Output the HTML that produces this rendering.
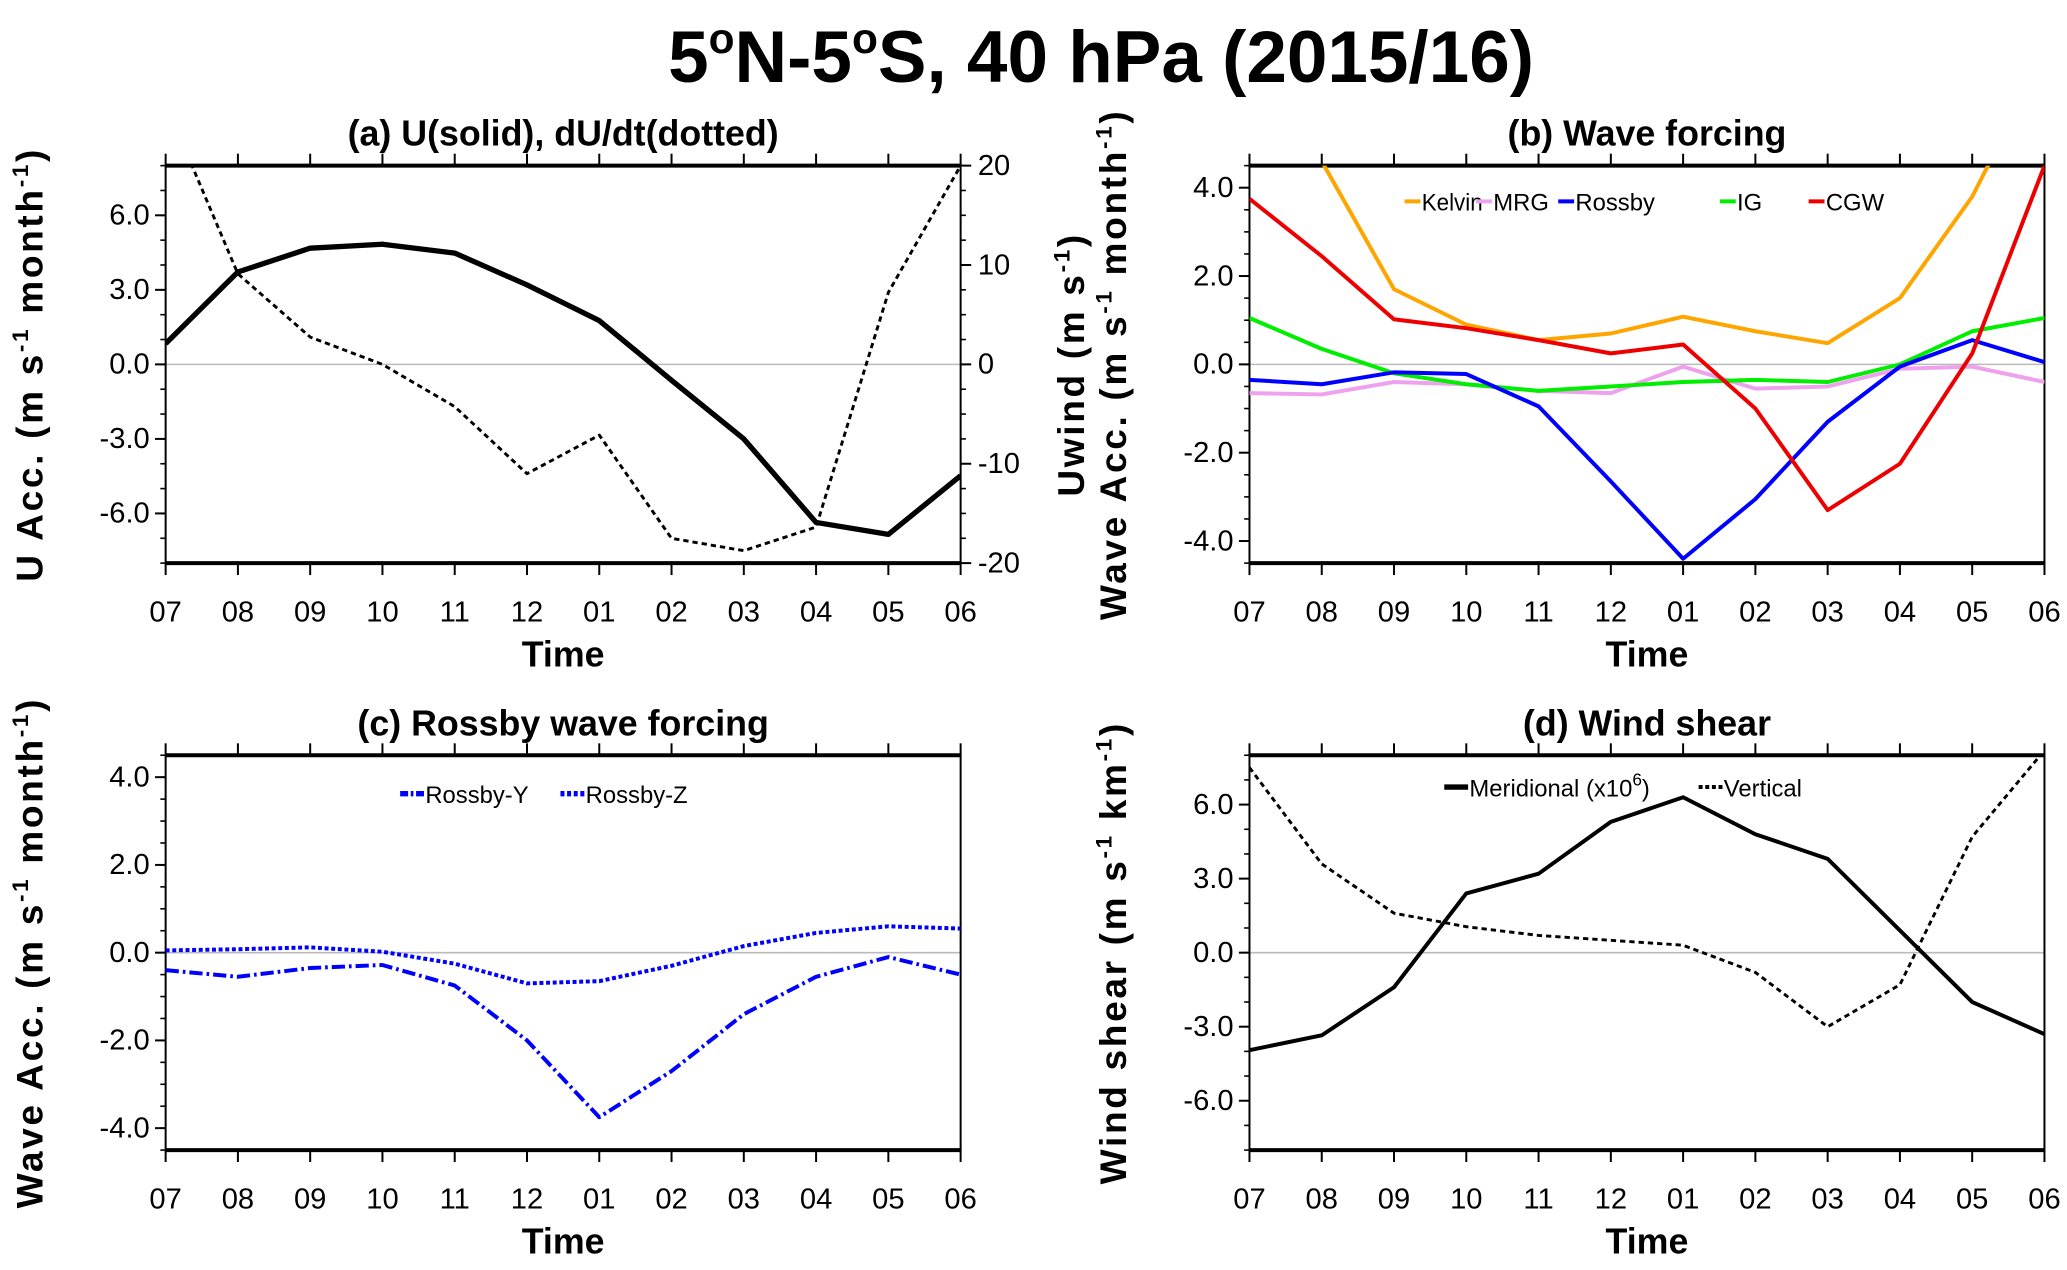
<!DOCTYPE html>
<html><head><meta charset="utf-8"><style>
html,body{margin:0;padding:0;background:#fff;}
svg{display:block;font-family:"Liberation Sans",Arial,sans-serif;}
</style></head><body>
<svg id="fig" width="2067" height="1270" viewBox="0 0 1560 958.5" xmlns="http://www.w3.org/2000/svg">
<text x="831" y="62" text-anchor="middle" font-size="55" font-weight="bold">5<tspan font-size="32" dy="-22">o</tspan><tspan dy="22">N-5</tspan><tspan font-size="32" dy="-22">o</tspan><tspan dy="22">S, 40 hPa (2015/16)</tspan></text>
</svg>
<script>
const months = ["07","08","09","10","11","12","01","02","03","04","05","06"];
// panel a
const aU = [2.1, 9.3, 11.7, 12.1, 11.2, 8.0, 4.4, -1.6, -7.5, -15.9, -17.1, -11.2];
const aDUDT = [10.5, 3.65, 1.1, 0.0, -1.7, -4.4, -2.85, -7.0, -7.5, -6.55, 2.9, 8.0];
const aLeftTicks = ["-6.0","-3.0","0.0","3.0","6.0"];
const aRightTicks = ["-20","-10","0","10","20"];
// panel b
const bKelvin = [8.0, 4.6, 1.7, 0.9, 0.55, 0.7, 1.08, 0.75, 0.48, 1.5, 3.8, 7.0];
const bMRG = [-0.65, -0.68, -0.4, -0.45, -0.6, -0.65, -0.05, -0.55, -0.5, -0.1, -0.05, -0.4];
const bRossby = [-0.35, -0.45, -0.18, -0.22, -0.95, -2.65, -4.4, -3.05, -1.3, -0.05, 0.55, 0.05];
const bIG = [1.05, 0.35, -0.2, -0.45, -0.6, -0.5, -0.4, -0.35, -0.4, 0.0, 0.75, 1.05];
const bCGW = [3.75, 2.45, 1.02, 0.82, 0.55, 0.25, 0.45, -1.0, -3.3, -2.25, 0.25, 4.5];
const bTicks = ["-4.0","-2.0","0.0","2.0","4.0"];
// panel c
const cRossbyY = [-0.4, -0.55, -0.35, -0.28, -0.75, -2.0, -3.75, -2.7, -1.4, -0.55, -0.1, -0.5];
const cRossbyZ = [0.05, 0.08, 0.12, 0.02, -0.25, -0.7, -0.65, -0.3, 0.15, 0.45, 0.6, 0.55];
// panel d
const dMerid = [-3.95, -3.35, -1.4, 2.4, 3.2, 5.3, 6.3, 4.8, 3.8, 0.9, -2.0, -3.3];
const dVert = [7.5, 3.6, 1.6, 1.05, 0.7, 0.5, 0.3, -0.8, -3.0, -1.3, 4.7, 8.2];
const dTicks = ["-6.0","-3.0","0.0","3.0","6.0"];

const NS="http://www.w3.org/2000/svg";
const svg=document.getElementById('fig');
function mk(tag,attrs,parent,txt){const e=document.createElementNS(NS,tag);for(const k in attrs)e.setAttribute(k,attrs[k]);if(txt!==undefined)e.textContent=txt;(parent||svg).appendChild(e);return e;}

function panel(id,L,T,W,H,ymin,ymax,minorStep,ticks,title,titleX){
  const g=mk('g',{});
  
  
  const cid='clip-'+id;
  const cp=mk('clipPath',{id:cid},g); mk('rect',{x:L,y:T,width:W,height:H},cp);
  const xs=i=>L+W*i/(months.length-1);
  const ys=v=>T+H*(ymax-v)/(ymax-ymin);
  const z=mk('line',{x1:L,x2:L+W,y1:ys(0),y2:ys(0),stroke:'#bbb','stroke-width':1.2},g);
  
  
  const fr=mk('rect',{x:L,y:T,width:W,height:H,fill:'none',stroke:'#000','stroke-width':1.5},g);
  
  
  mk('line',{x1:L,x2:L+W,y1:T,y2:T,stroke:'#000','stroke-width':3},g);
  mk('line',{x1:L,x2:L+W,y1:T+H,y2:T+H,stroke:'#000','stroke-width':3},g);
  months.forEach((m,i)=>{
    mk('line',{x1:xs(i),x2:xs(i),y1:T+H,y2:T+H+9,stroke:'#000','stroke-width':1.5},g);
    mk('line',{x1:xs(i),x2:xs(i),y1:T,y2:T-9,stroke:'#000','stroke-width':1.5},g);
    const t=mk('text',{x:xs(i),y:T+H+44,'text-anchor':'middle','font-size':22},g,m);
    
    
  });
  for(let v=Math.ceil(ymin/minorStep)*minorStep; v<=ymax+1e-9; v+=minorStep){
    mk('line',{x1:L-4,x2:L,y1:ys(v),y2:ys(v),stroke:'#000','stroke-width':1.2},g);
  }
  ticks.forEach(s=>{
    const v=parseFloat(s);
    mk('line',{x1:L-8,x2:L,y1:ys(v),y2:ys(v),stroke:'#000','stroke-width':1.5},g);
    const t=mk('text',{x:L-12,y:ys(v)+7,'text-anchor':'end','font-size':22},g,s);
    
    
  });
  const tt=mk('text',{x:titleX,y:T-15,'text-anchor':'middle','font-size':27,'font-weight':'bold'},g,title);
  
  
  const xt=mk('text',{x:L+W/2,y:T+H+78,'text-anchor':'middle','font-size':27,'font-weight':'bold'},g,'Time');
  
  
  return {g,xs,ys,cid};
}
function series(p,vals,ysF,color,width,dash,name){
  const pts=vals.map((v,i)=>p.xs(i).toFixed(1)+','+ysF(v).toFixed(1)).join(' ');
  const e=mk('polyline',{points:pts,fill:'none',stroke:color,'stroke-width':width,'stroke-dasharray':dash||'none','clip-path':'url(#'+p.cid+')','stroke-linejoin':'round'},p.g);
  
  
}
function ytitle(x,y,html,name){
  const t=mk('text',{x:x,y:y,'text-anchor':'middle','font-size':28,'font-weight':'bold','letter-spacing':'2',transform:'rotate(-90 '+x+' '+y+')'});
  t.innerHTML=html;
  
  
}
function legend(p,x,y,color,width,dash,label,len,tl){
  len=len||12;
  mk('line',{x1:x,x2:x+len,y1:y,y2:y,stroke:color,'stroke-width':width,'stroke-dasharray':dash||'none'},p.g);
  const at={x:x+len+1,y:y+7,'font-size':18};
  if(tl){at.textLength=tl;at.lengthAdjust='spacingAndGlyphs';}
  const t=mk('text',at,p.g);
  t.innerHTML=label;
  
  
}
const S1='<tspan font-size="17" dy="-11">-1</tspan><tspan dy="11">';

// (a)
const pa=panel('panel-a',125,125,600,300,-8,8,1,aLeftTicks,'(a) U(solid), dU/dt(dotted)',425);
const ysR=v=>125+300*(20-v)/40;
aRightTicks.forEach(s=>{const v=parseFloat(s);
  mk('line',{x1:725,x2:733,y1:ysR(v),y2:ysR(v),stroke:'#000','stroke-width':1.5},pa.g);
  const t=mk('text',{x:738,y:ysR(v)+7,'font-size':22},pa.g,s);
  
  
});
for(let v=-17.5;v<=20;v+=2.5) mk('line',{x1:725,x2:729,y1:ysR(v),y2:ysR(v),stroke:'#000','stroke-width':1.2},pa.g);
series(pa,aU,ysR,'#000',4,null,'u-wind-line');
series(pa,aDUDT,pa.ys,'#000',2.2,'4 3','dudt-line');
ytitle(32,275,'U Acc. (m s'+S1+' month</tspan><tspan font-size="17" dy="-11">-1</tspan><tspan dy="11">)</tspan>','left-y-axis-title');
ytitle(818,275,'Uwind (m s'+S1+')</tspan>','right-y-axis-title');

// (b)
const pb=panel('panel-b',943,125,600,300,-4.5,4.5,0.5,bTicks,'(b) Wave forcing',1243);
series(pb,bMRG,pb.ys,'#eea2ee',3,null,'mrg-line');
series(pb,bKelvin,pb.ys,'#ffa500',3,null,'kelvin-line');
series(pb,bIG,pb.ys,'#00ee00',3,null,'ig-line');
series(pb,bRossby,pb.ys,'#0000ff',3,null,'rossby-line');
series(pb,bCGW,pb.ys,'#ee0000',3,null,'cgw-line');
legend(pb,1060,152,'#ffa500',3,null,'Kelvin',12,46);
legend(pb,1114,152,'#eea2ee',3,null,'MRG');
legend(pb,1176,152,'#0000ff',3,null,'Rossby');
legend(pb,1298,152,'#00ee00',3,null,'IG');
legend(pb,1365,152,'#ee0000',3,null,'CGW');
ytitle(850,275,'Wave Acc. (m s'+S1+' month</tspan><tspan font-size="17" dy="-11">-1</tspan><tspan dy="11">)</tspan>','y-axis-title-b');

// (c)
const pc=panel('panel-c',125,570,600,298,-4.5,4.5,0.5,bTicks,'(c) Rossby wave forcing',425);
series(pc,cRossbyY,pc.ys,'#0000ff',3,'10 3 2 3','rossby-y-line');
series(pc,cRossbyZ,pc.ys,'#0000ff',3,'3 2','rossby-z-line');
legend(pc,302,599,'#0000ff',4,'6 2 2 2','Rossby-Y',18);
legend(pc,423,599,'#0000ff',4,'3 2','Rossby-Z',18);
ytitle(32,719,'Wave Acc. (m s'+S1+' month</tspan><tspan font-size="17" dy="-11">-1</tspan><tspan dy="11">)</tspan>','y-axis-title-c');

// (d)
const pd=panel('panel-d',943,570,600,298,-8,8,1,dTicks,'(d) Wind shear',1243);
series(pd,dMerid,pd.ys,'#000',3,null,'meridional-line');
series(pd,dVert,pd.ys,'#000',2.2,'4 3','vertical-line');
legend(pd,1090,594,'#000',4,null,'Meridional (x10<tspan font-size="13" dy="-8">6</tspan><tspan dy="8">)</tspan>',18);
legend(pd,1282,594,'#000',3,'3 2','Vertical',18);
ytitle(850,719,'Wind shear (m s'+S1+' km</tspan><tspan font-size="17" dy="-11">-1</tspan><tspan dy="11">)</tspan>','y-axis-title-d');
</script>
</body></html>
